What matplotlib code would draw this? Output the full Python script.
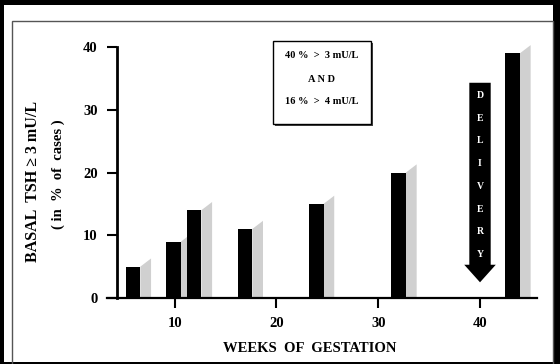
import numpy as np
import matplotlib.pyplot as plt
from matplotlib.patches import Rectangle, Polygon

# data
weeks = [5.9, 9.9, 11.9, 16.9, 23.9, 32, 43.2]
pct = [5, 9, 14, 11, 15, 20, 39]
xticks = [10, 20, 30, 40]
yticks = [0, 10, 20, 30, 40]
box_lines = ["40 %  >  3 mU/L", "A N D", "16 %  >  4 mU/L"]
arrow_word = "DELIVERY"
delivery_week = 40

plt.rcParams['font.family'] = ['Liberation Serif', 'DejaVu Serif']
plt.rcParams['font.weight'] = 'bold'

W, H = 560, 364
fig = plt.figure(figsize=(W / 100, H / 100), dpi=100, facecolor='black')

# white page inside the black scan border, with a thin grey frame
fig.patches.append(Rectangle((4 / W, 2 / H), (553 - 4) / W, (359 - 2) / H,
                             transform=fig.transFigure, facecolor='white',
                             edgecolor='none', zorder=-5))
fig.patches.append(Rectangle((12 / W, -0.01), (553 - 12) / W, 1 - 21 / H + 0.01,
                             transform=fig.transFigure, facecolor='none',
                             edgecolor='#555555', lw=1, zorder=-4))

ax = fig.add_axes([117 / W, 1 - 298 / H, (537 - 117) / W, (298 - 47) / H])
ax.set_facecolor('none')
ax.set_zorder(2)

bw = 1.45     # bar width in weeks
sd = 1.05     # depth of the grey side
for x, v in zip(weeks, pct):
    ax.bar(x, v, width=bw, color='black', zorder=3)
    r = x + bw / 2
    side = Polygon([(r, 0), (r, v), (r + sd, v + 1.3), (r + sd, 0)],
                   closed=True, facecolor='#d0d0d0', edgecolor='none', zorder=2,
                   clip_on=False)
    ax.add_patch(side)

# delivery arrow
xs = delivery_week
shaft = Polygon([(xs - 1.05, 34.3), (xs + 1.05, 34.3), (xs + 1.05, 5.3),
                 (xs + 1.55, 5.3), (xs, 2.5), (xs - 1.55, 5.3), (xs - 1.05, 5.3)],
                closed=True, facecolor='black', edgecolor='none', zorder=3)
ax.add_patch(shaft)
for i, ch in enumerate(arrow_word):
    ax.text(xs, 32.3 - i * 3.63, ch, color='white', fontsize=7, fontweight='bold',
            ha='center', va='center', zorder=4)

# note box
bx0, bx1, by0, by1 = 273, 371, 41, 124
ax.add_patch(Rectangle((bx0 / W + 0.004, 1 - by1 / H - 0.006), (bx1 - bx0) / W, (by1 - by0) / H,
                       transform=fig.transFigure, facecolor='#444444', edgecolor='none',
                       zorder=4, clip_on=False))
ax.add_patch(Rectangle((bx0 / W, 1 - by1 / H), (bx1 - bx0) / W, (by1 - by0) / H,
                       transform=fig.transFigure, facecolor='white', edgecolor='black',
                       lw=1, zorder=5, clip_on=False))
for yy, s in zip([55, 79, 102], box_lines):
    ax.text((bx0 + bx1) / 2 / W, 1 - yy / H, s, ha='center', va='center',
            transform=fig.transFigure, fontsize=7.5, fontweight='bold', zorder=6)

ax.set_xlim(4.33, 45.6)
ax.set_ylim(0, 40)
ax.set_xticks(xticks)
ax.set_yticks(yticks)
ax.tick_params(axis='both', direction='out', length=7, width=1.5, labelsize=10.5, pad=7)
ax.tick_params(axis='x', pad=7)
for lab in ax.get_xticklabels() + ax.get_yticklabels():
    lab.set_fontweight('bold')
for s in ['top', 'right']:
    ax.spines[s].set_visible(False)
ax.spines['left'].set_linewidth(2)
ax.spines['bottom'].set_linewidth(1.6)
ax.spines['bottom'].set_bounds(4.33 - 1.0, 45.6)

fig.text(310 / W, 1 - 349 / H, "WEEKS  OF  GESTATION", ha='center', va='center',
         fontsize=10.5, fontweight='bold')
fig.text(33 / W, 1 - 181 / H, "BASAL  TSH ≥ 3 mU/L", rotation=90, ha='center', va='center',
         fontsize=11.5, fontweight='bold')
fig.text(58 / W, 1 - 174 / H, "( in  %  of  cases )", rotation=90, ha='center', va='center',
         fontsize=10.5, fontweight='bold')

fig.savefig('out.png', dpi=100, facecolor='black')
